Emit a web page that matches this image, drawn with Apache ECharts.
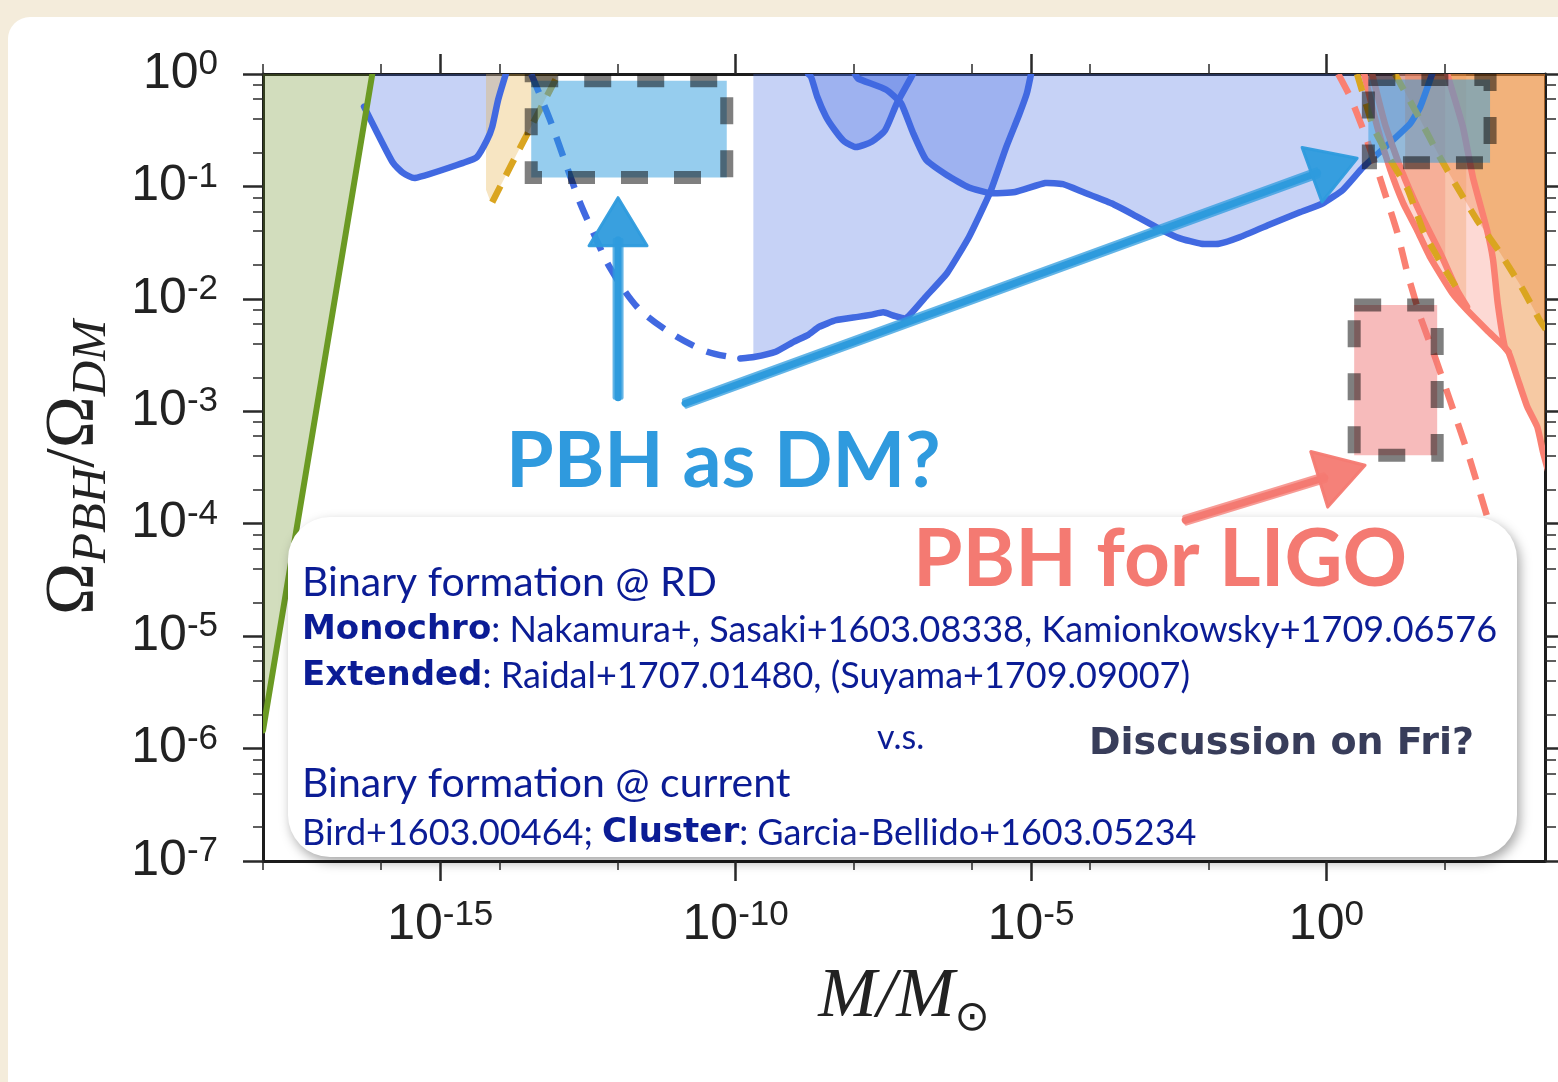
<!DOCTYPE html>
<html>
<head>
<meta charset="utf-8">
<script src="https://cdn.jsdelivr.net/npm/echarts@6/dist/echarts.min.js"></script>
<style>
  html, body { margin: 0; padding: 0; background: #f4ecdb; }
  #chart { width: 1558px; height: 1082px; }
</style>
</head>
<body>
<div id="chart"></div>
<script>
// ---- axes (log10 units) ----
const massRange = [-18, 3.7];          // log10(M / Msun)
const fracRange = [-7, 0];             // log10(Omega_PBH / Omega_DM)
const massMajor = [-15, -10, -5, 0];
const massMinor = [-18, -16, -14, -12, -8, -6, -4, -2, 2];
const fracMajor = [-7, -6, -5, -4, -3, -2, -1, 0];
const fracSubs = [2, 4, 6, 8];

// ---- constraint curves: [log10(M/Msun), log10(f)] ----
const hawking = [[-18.0, -5.84], [-16.15, 0.0]];
const egb = [[-16.29, -0.29], [-16.07, -0.52], [-15.80, -0.79], [-15.63, -0.88], [-15.43, -0.925],
  [-14.61, -0.79], [-14.38, -0.74], [-14.21, -0.59], [-14.12, -0.47], [-14.02, -0.23], [-13.89, 0.0]];
const whiteDwarf = [[-14.12, -1.14], [-13.78, -0.79], [-13.0, 0.0]];
const whiteDwarfEdge = [[-14.225, 0.0], [-14.225, -1.03], [-14.16, -1.12]];
const femto = [[-13.46, 0.0], [-13.14, -0.41], [-12.84, -0.85], [-12.63, -1.15], [-12.41, -1.41],
  [-12.13, -1.72], [-11.67, -2.07], [-11.11, -2.30], [-10.48, -2.47], [-9.92, -2.53]];
const hsc = [[-9.92, -2.53], [-9.69, -2.517], [-9.32, -2.47], [-9.01, -2.38], [-8.77, -2.32],
  [-8.59, -2.25], [-8.30, -2.19], [-7.93, -2.16], [-7.69, -2.14], [-7.50, -2.12], [-7.32, -2.15],
  [-7.11, -2.17], [-6.78, -1.98], [-6.42, -1.77], [-6.05, -1.45], [-5.69, -1.05], [-5.42, -0.65],
  [-5.20, -0.36], [-5.07, -0.17], [-5.0, 0.0]];
const hscStart = -9.70;
const kepler = [[-8.77, 0.0], [-8.72, -0.03], [-8.62, -0.20], [-8.47, -0.38], [-8.32, -0.50],
  [-8.16, -0.60], [-7.96, -0.65], [-7.69, -0.60], [-7.47, -0.50], [-7.27, -0.26], [-7.03, -0.03], [-7.0, 0.0]];
const microlensing = [[-7.98, 0.0], [-7.93, -0.04], [-7.45, -0.14], [-7.20, -0.26], [-7.00, -0.52],
  [-6.78, -0.76], [-6.42, -0.90], [-6.05, -1.01], [-5.69, -1.06], [-5.27, -1.05], [-4.76, -0.97],
  [-4.46, -0.98], [-4.12, -1.05], [-3.64, -1.15], [-3.27, -1.25], [-2.85, -1.37], [-2.49, -1.46],
  [-2.12, -1.51], [-1.82, -1.51], [-1.46, -1.45], [-0.97, -1.34], [-0.45, -1.23], [-0.06, -1.15],
  [0.28, -1.03], [0.62, -0.83], [1.08, -0.61], [1.42, -0.44], [1.59, -0.29], [1.79, 0.0]];
const accretionDashed = [[0.20, 0.0], [0.40, -0.20], [0.605, -0.47], [0.86, -0.85], [1.20, -1.41],
  [1.37, -1.77], [1.59, -2.16], [1.84, -2.52], [2.09, -2.90], [2.43, -3.43], [2.74, -3.97], [2.94, -4.28]];
const accretionA = [[0.64, 0.0], [0.86, -0.47], [1.08, -0.85], [1.30, -1.15], [1.535, -1.39],
  [1.755, -1.63], [2.13, -1.95], [2.38, -2.10], [2.72, -2.28], [2.94, -2.39], [3.08, -2.47],
  [3.23, -2.70], [3.40, -2.96], [3.57, -3.14], [3.67, -3.37], [3.80, -3.62]];
const accretionB = [[0.774, 0.0], [0.994, -0.45], [1.28, -0.87], [1.59, -1.24], [1.925, -1.59],
  [2.21, -1.92], [2.38, -2.07]];
const accretionC = [[2.044, 0.0], [2.31, -0.47], [2.48, -0.92], [2.72, -1.39], [2.82, -1.65],
  [2.90, -2.04], [3.02, -2.43], [3.08, -2.47]];
const xrayA = [[0.52, 0.0], [0.79, -0.47], [1.08, -0.76], [1.38, -1.03], [1.65, -1.41], [1.98, -1.72], [2.30, -1.98]];
const xrayB = [[1.16, 0.0], [1.53, -0.35], [1.92, -0.74], [2.21, -1.005], [2.55, -1.30], [2.94, -1.59],
  [3.33, -1.92], [3.61, -2.19], [3.80, -2.34]];
const bandEdges = [1.333, 2.01, 2.366];

// ---- highlighted windows: [Mmin, Mmax, fmin, fmax] (log10) ----
const dmWindow = [-13.46, -10.15, -0.92, -0.06];
const ligoWindowHigh = [0.71, 2.77, -0.79, -0.05];
const ligoWindowLow = [0.47, 1.875, -3.39, -2.055];

// ---- arrows: [M tail, f tail, M tip, f tip] (log10) ----
const dmArrows = [[-11.99, -2.88, -11.99, -1.10], [-10.856, -2.93, 0.52, -0.75]];
const ligoArrows = [[-2.39, -3.97, 0.655, -3.48]];

// ---- text ----
const titleDM = 'PBH as DM?';
const titleLIGO = 'PBH for LIGO';
const noteLines = [
  '{big|Binary formation @ RD}',
  '{bold|Monochro}{reg|: Nakamura+, Sasaki+1603.08338, Kamionkowsky+1709.06576}',
  '{bold|Extended}{reg|: Raidal+1707.01480, (Suyama+1709.09007)}',
  '{big|Binary formation @ current}',
  '{reg|Bird+1603.00464; }{bold|Cluster}{reg|: Garcia-Bellido+1603.05234}'
];
const noteVs = 'v.s.';
const noteFri = 'Discussion on Fri?';

// ---- colours ----
const BLUE_LINE = '#4169e1';
const BLUE_FILL = 'rgba(65,105,225,0.30)';
const SALMON = '#fa8072';
const GOLD = '#daa520';
const GREEN = '#6b9a23';
const NAVY = '#0b1c95';

const fracMinor = [];
for (let n = fracRange[0]; n < fracRange[1]; n++) {
  fracSubs.forEach(k => fracMinor.push(n + Math.log10(k)));
}

const tickRich = {
  b: { fontFamily: 'Liberation Sans', fontSize: 50, lineHeight: 54, color: '#222' },
  s: { fontFamily: 'Liberation Sans', fontSize: 35, lineHeight: 18, verticalAlign: 'top', color: '#222' }
};
const expLabel = v => '{b|10}{s|' + Math.round(v) + '}';

function axisBase(extent, position, ticks, len, width, showLine) {
  return {
    type: 'value', gridIndex: 0, position: position, min: extent[0], max: extent[1],
    axisLine: { show: showLine, onZero: false, lineStyle: { color: '#1c1c1c', width: 3 } },
    axisTick: { show: true, inside: false, customValues: ticks, length: len, lineStyle: { color: '#2a2a2a', width: width } },
    axisLabel: { show: false },
    splitLine: { show: false },
    nameMoveOverlap: false
  };
}

const xMain = axisBase(massRange, 'bottom', massMajor, 20, 2.5, true);
xMain.axisLabel = { show: true, customValues: massMajor, margin: 37, formatter: expLabel, rich: tickRich };
xMain.name = '{m|M/M}{o|\u2299}';
xMain.nameLocation = 'middle';
xMain.nameGap = 95;
xMain.nameTextStyle = {
  rich: {
    m: { fontFamily: 'Liberation Serif', fontStyle: 'italic', fontSize: 70, lineHeight: 84, color: '#222' },
    o: { fontFamily: 'DejaVu Sans', fontSize: 42, lineHeight: 40, verticalAlign: 'bottom', color: '#222' }
  }
};

const yMain = axisBase(fracRange, 'left', fracMajor, 20, 2.5, true);
yMain.axisLabel = { show: true, customValues: fracMajor, margin: 45, formatter: expLabel, rich: tickRich };
yMain.name = '{w|\u03a9}{s|PBH}{w|/\u03a9}{s|DM}';
yMain.nameLocation = 'middle';
yMain.nameRotate = 90;
yMain.nameGap = 146;
yMain.nameTextStyle = {
  rich: {
    w: { fontFamily: 'Liberation Serif', fontSize: 70, lineHeight: 84, color: '#222' },
    s: { fontFamily: 'Liberation Serif', fontStyle: 'italic', fontSize: 49, lineHeight: 46, verticalAlign: 'bottom', color: '#222' }
  }
};

const xAxes = [
  xMain,
  axisBase(massRange, 'bottom', massMinor, 9, 1.5, false),
  axisBase(massRange, 'top', massMajor, 20, 2.5, true),
  axisBase(massRange, 'top', massMinor, 10, 1.5, false)
];
const yAxes = [
  yMain,
  axisBase(fracRange, 'left', fracMinor, 10, 1.5, false),
  axisBase(fracRange, 'right', fracMajor, 18, 2.5, true),
  axisBase(fracRange, 'right', fracMinor, 11, 1.5, false)
];

// ---- series builders ----
function polygonSeries(points, fill, z) {
  return {
    type: 'custom', coordinateSystem: 'cartesian2d', clip: true, silent: true, z: z,
    data: [[points[0][0], points[0][1]]],
    renderItem: (params, api) => ({
      type: 'polygon',
      shape: { points: points.map(p => api.coord(p)) },
      style: { fill: fill }
    })
  };
}
// one custom polyline per curve, mapped through the cartesian axes
function curveSeries(points, color, width, dash, smooth, z) {
  return {
    type: 'custom', coordinateSystem: 'cartesian2d', clip: true, silent: true, z: z,
    data: [[points[0][0], points[0][1]]],
    renderItem: (params, api) => ({
      type: 'polyline',
      shape: { points: points.map(p => api.coord(p)), smooth: smooth || 0 },
      style: {
        fill: null, stroke: color, lineWidth: width,
        lineDash: dash || null, lineCap: dash ? 'butt' : 'round', lineJoin: 'round'
      }
    })
  };
}
function windowItem(params, api) {
  const tl = api.coord([api.value(0), api.value(3)]);
  const br = api.coord([api.value(1), api.value(2)]);
  const shape = { x: tl[0], y: tl[1], width: br[0] - tl[0], height: br[1] - tl[1] };
  return {
    type: 'group',
    children: [
      { type: 'rect', shape: shape, style: { fill: api.visual('color') } },
      { type: 'rect', shape: shape, style: { fill: 'none', stroke: 'rgba(0,0,0,0.5)', lineWidth: 13, lineDash: [27, 26] } }
    ]
  };
}
function arrowItem(params, api) {
  const a = api.coord([api.value(0), api.value(1)]);
  const b = api.coord([api.value(2), api.value(3)]);
  const dx = b[0] - a[0], dy = b[1] - a[1];
  const L = Math.hypot(dx, dy);
  const ux = dx / L, uy = dy / L, px = -uy, py = ux;
  const headLen = 48, headHalf = 29;
  const base = [b[0] - ux * headLen, b[1] - uy * headLen];
  const color = api.visual('color');
  const children = [];
  [-3.5, 0, 3.5].forEach((o, i) => {
    children.push({
      type: 'line',
      shape: { x1: a[0] + px * o, y1: a[1] + py * o, x2: base[0] + ux * 6 + px * o, y2: base[1] + uy * 6 + py * o },
      style: { stroke: color, lineWidth: i === 1 ? 7 : 4, lineCap: 'round', opacity: i === 1 ? 1 : 0.75 }
    });
  });
  children.push({
    type: 'polygon',
    shape: { points: [b, [base[0] + px * headHalf, base[1] + py * headHalf], [base[0] - px * headHalf, base[1] - py * headHalf]] },
    style: { fill: color, stroke: color, lineWidth: 3, lineJoin: 'round', opacity: 0.95 }
  });
  return { type: 'group', children: children };
}

// fills
const greenFill = [hawking[0], hawking[1], [massRange[0], 0]];
const egbFill = egb.concat([[hawking[1][0], 0]]);
const wdFill = whiteDwarfEdge.concat(whiteDwarf);
const hscFill = [[hscStart, 0], [hscStart, -2.517]].concat(hsc.slice(2));
const keplerFill = kepler;
const microFill = microlensing;
const accretionFill = accretionC.concat(accretionA.slice(11)).concat([[3.9, -3.62], [3.9, 0]]);
const xrayFill = xrayB.concat([[3.9, -2.34], [3.9, 0]]);
const vFill = accretionA.slice(0, 11).concat(accretionC.slice().reverse());
const bandFill1 = [[bandEdges[0], 0], [bandEdges[0], -0.93], [1.59, -1.24], [1.925, -1.59], [2.21, -1.92], [bandEdges[2], -2.06], [bandEdges[2], 0]];
const bandFill2 = [[bandEdges[0], 0], [bandEdges[0], -0.93], [1.59, -1.24], [1.925, -1.59], [bandEdges[1], -1.67], [bandEdges[1], 0]];

const LW = 6.5;
const series = [
  polygonSeries(greenFill, 'rgba(107,142,35,0.30)', 2),
  polygonSeries(egbFill, BLUE_FILL, 2),
  polygonSeries(wdFill, 'rgba(230,175,70,0.33)', 2),
  polygonSeries(hscFill, BLUE_FILL, 2),
  polygonSeries(keplerFill, BLUE_FILL, 2),
  polygonSeries(microFill, BLUE_FILL, 2),
  polygonSeries(accretionFill, 'rgba(235,135,50,0.45)', 2),
  polygonSeries(xrayFill, 'rgba(235,135,50,0.35)', 2),
  polygonSeries(vFill, 'rgba(250,128,114,0.30)', 2),
  polygonSeries(bandFill1, 'rgba(240,150,80,0.30)', 2),
  polygonSeries(bandFill2, 'rgba(240,110,90,0.25)', 2),

  curveSeries(egb, BLUE_LINE, LW, null, 0.2, 3),
  curveSeries(whiteDwarf, GOLD, LW, [18, 12], 0, 3),
  curveSeries(femto, BLUE_LINE, LW, [20, 14], 0.3, 3),
  curveSeries(hsc, BLUE_LINE, LW, null, 0.15, 3),
  curveSeries(kepler, BLUE_LINE, LW, null, 0.2, 3),
  curveSeries(microlensing, BLUE_LINE, LW, null, 0.15, 3),
  curveSeries(accretionDashed, SALMON, LW, [22, 15], 0.15, 3),
  curveSeries(accretionA, SALMON, LW, null, 0.15, 3),
  curveSeries(accretionB, SALMON, LW, null, 0.15, 3),
  curveSeries(accretionC, SALMON, LW, null, 0.15, 3),
  curveSeries(xrayA, GOLD, LW, [18, 13], 0.1, 3),
  curveSeries(xrayB, GOLD, LW, [18, 13], 0.1, 3),
  curveSeries(hawking, GREEN, 6, null, 0, 3),

  {
    type: 'custom', coordinateSystem: 'cartesian2d', clip: true, silent: true, z: 4,
    encode: { x: [0, 1], y: [2, 3] },
    data: [
      { value: dmWindow, itemStyle: { color: 'rgba(46,155,221,0.5)' } },
      { value: ligoWindowHigh, itemStyle: { color: 'rgba(46,155,221,0.5)' } },
      { value: ligoWindowLow, itemStyle: { color: 'rgba(240,120,120,0.5)' } }
    ],
    renderItem: windowItem
  },
  {
    type: 'custom', coordinateSystem: 'cartesian2d', clip: false, silent: true, z: 60,
    encode: { x: [0, 2], y: [1, 3] },
    itemStyle: { color: '#2e9bdd' },
    data: dmArrows,
    renderItem: arrowItem
  },
  {
    type: 'custom', coordinateSystem: 'cartesian2d', clip: false, silent: true, z: 60,
    encode: { x: [0, 2], y: [1, 3] },
    itemStyle: { color: '#f47a72' },
    data: ligoArrows,
    renderItem: arrowItem
  }
];

const noteRich = {
  big: { fontFamily: 'Lato', fontSize: 41, fill: NAVY },
  reg: { fontFamily: 'Lato', fontSize: 36, fill: NAVY },
  bold: { fontFamily: 'DejaVu Sans', fontWeight: 'bold', fontSize: 34, fill: NAVY }
};
const noteY = [583, 630, 676, 784, 833];

const graphics = [
  { type: 'rect', z: -5, silent: true, shape: { x: 8, y: 17, width: 1600, height: 1120, r: 22 }, style: { fill: '#ffffff' } },
  {
    type: 'rect', z: 50, silent: true,
    shape: { x: 288, y: 517, width: 1229, height: 340, r: 42 },
    style: { fill: '#ffffff', shadowBlur: 12, shadowColor: 'rgba(0,0,0,0.35)', shadowOffsetX: 3, shadowOffsetY: 5 }
  }
];
noteLines.forEach((t, i) => {
  graphics.push({
    type: 'text', z: 55, silent: true, x: 302, y: noteY[i],
    style: { text: t, rich: noteRich, verticalAlign: 'middle', align: 'left' }
  });
});
graphics.push({
  type: 'text', z: 55, silent: true, x: 877, y: 738,
  style: { text: noteVs, fontFamily: 'Lato', fontSize: 34, fill: NAVY, verticalAlign: 'middle' }
});
graphics.push({
  type: 'text', z: 55, silent: true, x: 1089, y: 744,
  style: { text: noteFri, fontFamily: 'DejaVu Sans', fontWeight: 'bold', fontSize: 38, fill: '#383d5a', verticalAlign: 'middle' }
});
graphics.push({
  type: 'text', z: 70, silent: true, x: 506, y: 462,
  style: { text: titleDM, fontFamily: 'Lato', fontWeight: 'bold', fontSize: 77, fill: '#2f9ade', verticalAlign: 'middle' }
});
graphics.push({
  type: 'text', z: 70, silent: true, x: 913, y: 560,
  style: { text: titleLIGO, fontFamily: 'Lato', fontWeight: 'bold', fontSize: 80, fill: '#f47a72', verticalAlign: 'middle' }
});

const chart = echarts.init(document.getElementById('chart'), null, { renderer: 'canvas', width: 1558, height: 1082 });
chart.setOption({
  backgroundColor: '#f4ecdb',
  animation: false,
  grid: { left: 263, top: 74, width: 1282, height: 787, containLabel: false, outerBoundsMode: 'none' },
  xAxis: xAxes,
  yAxis: yAxes,
  series: series,
  graphic: graphics
});
</script>
</body>
</html>
